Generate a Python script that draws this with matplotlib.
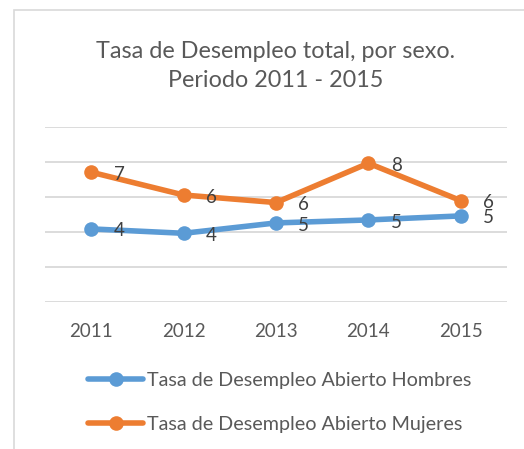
import matplotlib.pyplot as plt
from matplotlib.patches import Rectangle

plt.rcParams['font.family'] = ['Lato', 'DejaVu Sans']

# Datos
years = ['2011', '2012', '2013', '2014', '2015']
hombres = [4.18, 3.93, 4.52, 4.69, 4.92]
mujeres = [7.41, 6.11, 5.68, 7.92, 5.79]
labels_h = ['4', '4', '5', '5', '5']
labels_m = ['7', '6', '6', '8', '6']

blue = '#5B9BD5'
orange = '#ED7D31'
txt = '#595959'

fig = plt.figure(figsize=(5.24, 4.49), dpi=100)
fig.patches.append(Rectangle((14 / 524, -0.1), 1.2, 1 - 10.5 / 449 + 0.1,
                             transform=fig.transFigure, fill=False,
                             edgecolor='#D9D9D9', linewidth=1.2))

ax = fig.add_axes([45 / 524, 1 - 302.3 / 449, 462 / 524, 175.6 / 449])
x = range(len(years))
ax.plot(x, hombres, color=blue, linewidth=4, marker='o', markersize=10.5,
        markeredgewidth=0, label='Tasa de Desempleo Abierto Hombres',
        solid_capstyle='round')
ax.plot(x, mujeres, color=orange, linewidth=4, marker='o', markersize=10.5,
        markeredgewidth=0, label='Tasa de Desempleo Abierto Mujeres',
        solid_capstyle='round')

for i in x:
    ax.annotate(labels_h[i], (i, hombres[i]), xytext=(20, -1.5), textcoords='offset points',
                ha='center', va='center', fontsize=13.5, color='#404040')
    ax.annotate(labels_m[i], (i, mujeres[i]), xytext=(20, -1.5), textcoords='offset points',
                ha='center', va='center', fontsize=13.5, color='#404040')

ax.set_xlim(-0.5, 4.5)
ax.set_ylim(0, 10)
ax.set_yticks([0, 2, 4, 6, 8, 10])
ax.set_yticklabels([])
ax.set_xticks(list(x))
ax.set_xticklabels(years, fontsize=13.5, color=txt)
ax.tick_params(length=0, pad=15)
ax.tick_params(axis='y', left=False)
ax.grid(axis='y', color='#D9D9D9', linewidth=1.3)
ax.set_axisbelow(True)
for s in ax.spines.values():
    s.set_visible(False)

fig.text(276 / 524, 1 - 66 / 449, 'Tasa de Desempleo total, por sexo.\nPeriodo 2011 - 2015',
         ha='center', va='center', fontsize=16.8, color=txt, linespacing=1.5)

ax.legend(loc='upper left', bbox_to_anchor=(88 / 524, 1 - 372 / 449),
          bbox_transform=fig.transFigure, frameon=False, fontsize=14.2,
          handlelength=2.8, handletextpad=0.2, labelspacing=1.35,
          borderpad=0, borderaxespad=0, labelcolor=txt)

fig.savefig('out.png', dpi=100)
